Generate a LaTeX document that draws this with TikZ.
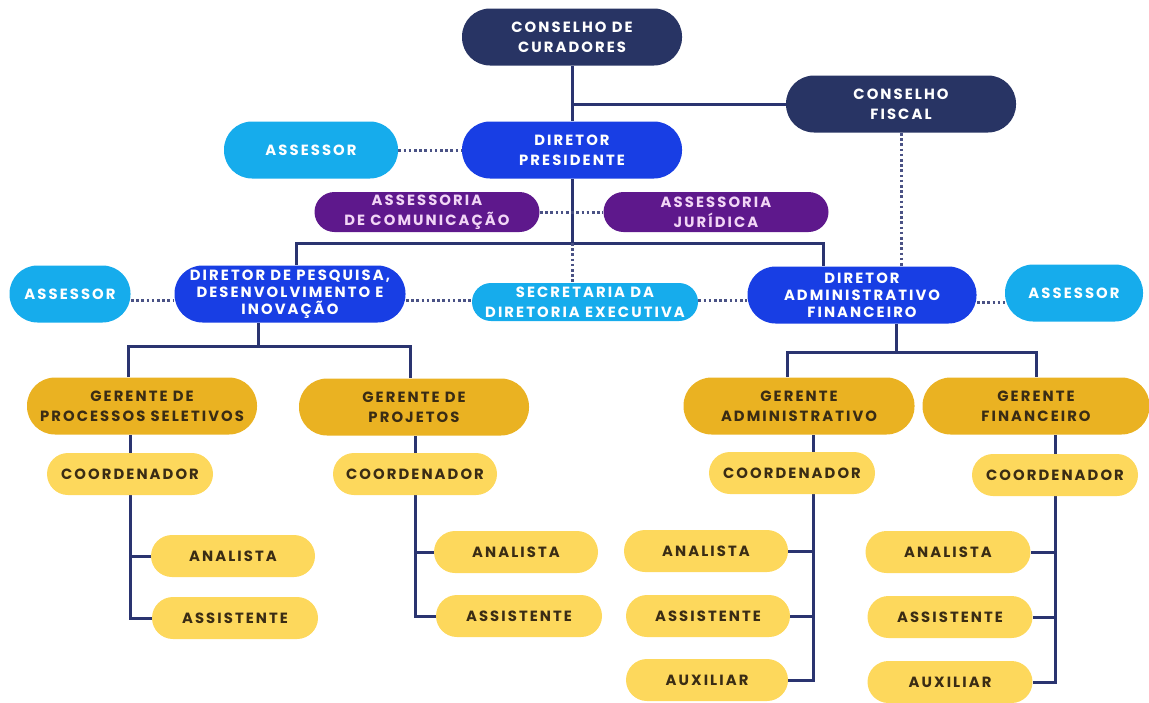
\documentclass[tikz,border=0pt]{standalone}
\usepackage{fontspec}
\setmainfont{Poppins}[LetterSpace=14]
\usetikzlibrary{backgrounds}
\definecolor{navy}{RGB}{40,52,100}
\definecolor{royal}{RGB}{24,62,228}
\definecolor{sky}{RGB}{22,172,236}
\definecolor{plum}{RGB}{94,24,140}
\definecolor{gold}{RGB}{234,178,34}
\definecolor{butter}{RGB}{253,216,92}
\definecolor{ink}{RGB}{58,44,20}
\definecolor{pinkw}{RGB}{242,214,246}
\definecolor{wire}{RGB}{42,52,112}
\newcommand{\lbl}{\bfseries\fontsize{7.4}{10}\selectfont}
\newcommand{\lbltight}{\bfseries\fontsize{7.4}{8.6}\selectfont}
\tikzset{
  pill/.style={rectangle, rounded corners=14pt, minimum height=28.5pt, inner sep=1pt, align=center, font=\lbl},
  board/.style={pill, fill=navy, text=white},
  director/.style={pill, fill=royal, text=white},
  advisor/.style={pill, fill=sky, text=white},
  office/.style={pill, fill=plum, text=pinkw, rounded corners=10pt, minimum height=20pt},
  manager/.style={pill, fill=gold, text=ink},
  staff/.style={pill, fill=butter, text=ink, rounded corners=10.5pt, minimum height=21pt},
  link/.style={draw=wire, line width=1.5pt},
  dotlink/.style={draw=wire!85, line width=1.5pt, dash pattern=on 1.3pt off 1.3pt},
}
\begin{document}
\begin{tikzpicture}[x=0.5pt,y=-0.5pt]
\useasboundingbox (0,0) rectangle (1149,702);
% top levels
\node[board, minimum width=110pt] (curad) at (572,37) {CONSELHO DE\\CURADORES};
\node[board, minimum width=115pt] (fiscal) at (901,104) {CONSELHO\\FISCAL};
\node[advisor, minimum width=87pt] (asspres) at (311,150) {ASSESSOR};
\node[director, minimum width=110pt] (pres) at (572,150) {DIRETOR\\PRESIDENTE};
\node[office, minimum width=112.5pt] (com) at (427,212) {ASSESSORIA\\DE COMUNICAÇÃO};
\node[office, minimum width=112.5pt] (jur) at (716,212) {ASSESSORIA\\JURÍDICA};
% directors row
\node[advisor, minimum width=60.5pt] (asspesq) at (70,294) {ASSESSOR};
\node[director, minimum width=115.5pt, font=\lbltight] (pesq) at (290,294) {DIRETOR DE PESQUISA,\\DESENVOLVIMENTO E\\INOVAÇÃO};
\node[advisor, minimum width=113pt, minimum height=19pt, rounded corners=9.5pt] (secr) at (585,302) {SECRETARIA DA\\DIRETORIA EXECUTIVA};
\node[director, minimum width=114.5pt, font=\lbltight] (adm) at (862,295) {DIRETOR\\ADMINISTRATIVO\\FINANCEIRO};
\node[advisor, minimum width=69pt] (assadm) at (1074,293) {ASSESSOR};
% managers
\node[manager, minimum width=115pt] (gps) at (142,406) {GERENTE DE\\PROCESSOS SELETIVOS};
\node[manager, minimum width=115pt] (gproj) at (414,407) {GERENTE DE\\PROJETOS};
\node[manager, minimum width=115.5pt] (gadm) at (799,406) {GERENTE\\ADMINISTRATIVO};
\node[manager, minimum width=113.5pt] (gfin) at (1036,406) {GERENTE\\FINANCEIRO};
% staff
\node[staff, minimum width=83pt] (coordps) at (130,474) {COORDENADOR};
\node[staff, minimum width=82pt] (anaps) at (233,556) {ANALISTA};
\node[staff, minimum width=83pt] (assps) at (235,618) {ASSISTENTE};
\node[staff, minimum width=82pt] (coordproj) at (415,474) {COORDENADOR};
\node[staff, minimum width=82pt] (anaproj) at (516,552) {ANALISTA};
\node[staff, minimum width=83pt] (assproj) at (519,616) {ASSISTENTE};
\node[staff, minimum width=83pt] (coordadm) at (792,473) {COORDENADOR};
\node[staff, minimum width=82pt] (anaadm) at (706,551) {ANALISTA};
\node[staff, minimum width=82pt] (assadmst) at (708,616) {ASSISTENTE};
\node[staff, minimum width=81pt] (auxadm) at (707,680) {AUXILIAR};
\node[staff, minimum width=83pt] (coordfin) at (1055,475) {COORDENADOR};
\node[staff, minimum width=82.5pt] (anafin) at (948,552) {ANALISTA};
\node[staff, minimum width=82.5pt] (assfin) at (950,617) {ASSISTENTE};
\node[staff, minimum width=82.5pt] (auxfin) at (950,682) {AUXILIAR};
\coordinate (hub) at (572,243);
\coordinate (jl) at (258,346);
\coordinate (jr) at (896,352);
\begin{scope}[on background layer]
\draw[link] (curad.south) -- (pres.north);
\draw[link] (fiscal.west) -- (fiscal.west -| curad.south);
\draw[link] (pres.south) -- (hub);
\draw[link] ([xshift=3pt]pesq.north) |- (hub) -| ([xshift=-19.5pt]adm.north);
\draw[dotlink] (hub) -- (hub |- secr.north);
\draw[dotlink] (fiscal.south) -- (fiscal.south |- adm.north);
\draw[dotlink] (asspres.east) -- (pres.west);
\draw[dotlink] (com.east) -- (jur.west);
\draw[dotlink] ([yshift=-3pt]asspesq.east) -- ([yshift=-3pt]pesq.west);
\draw[dotlink] ([yshift=-3pt]pesq.east) -- ([yshift=-3pt]pesq.east -| secr.west);
\draw[dotlink] ([yshift=-2.5pt]adm.west -| secr.east) -- ([yshift=-2.5pt]adm.west);
\draw[dotlink] ([yshift=-3.5pt]adm.east) -- ([yshift=-3.5pt]adm.east -| assadm.west);
% left branch
\draw[link] ([xshift=-16pt]pesq.south) -- (jl);
\draw[link] ([xshift=-7pt]gps.north) |- (jl) -| ([xshift=-2pt]gproj.north);
\draw[link] (coordps.north |- gps.south) -- (coordps.north);
\draw[link] (coordps.south) |- (anaps.west);
\draw[link] (coordps.south) |- (assps.west);
\draw[link] (coordproj.north |- gproj.south) -- (coordproj.north);
\draw[link] (coordproj.south) |- (anaproj.west);
\draw[link] (coordproj.south) |- (assproj.west);
% right branch
\draw[link] ([xshift=17pt]adm.south) -- (jr);
\draw[link] ([xshift=-6pt]gadm.north) |- (jr) -| (gfin.north);
\draw[link] ([xshift=7pt]gadm.south) -- ([xshift=10.5pt]coordadm.north);
\draw[link] ([xshift=10.5pt]coordadm.south) |- (anaadm.east);
\draw[link] ([xshift=10.5pt]coordadm.south) |- (assadmst.east);
\draw[link] ([xshift=10.5pt]coordadm.south) |- (auxadm.east);
\draw[link] (coordfin.north |- gfin.south) -- (coordfin.north);
\draw[link] (coordfin.south) |- (anafin.east);
\draw[link] (coordfin.south) |- (assfin.east);
\draw[link] (coordfin.south) |- (auxfin.east);
\end{scope}
\end{tikzpicture}
\end{document}
